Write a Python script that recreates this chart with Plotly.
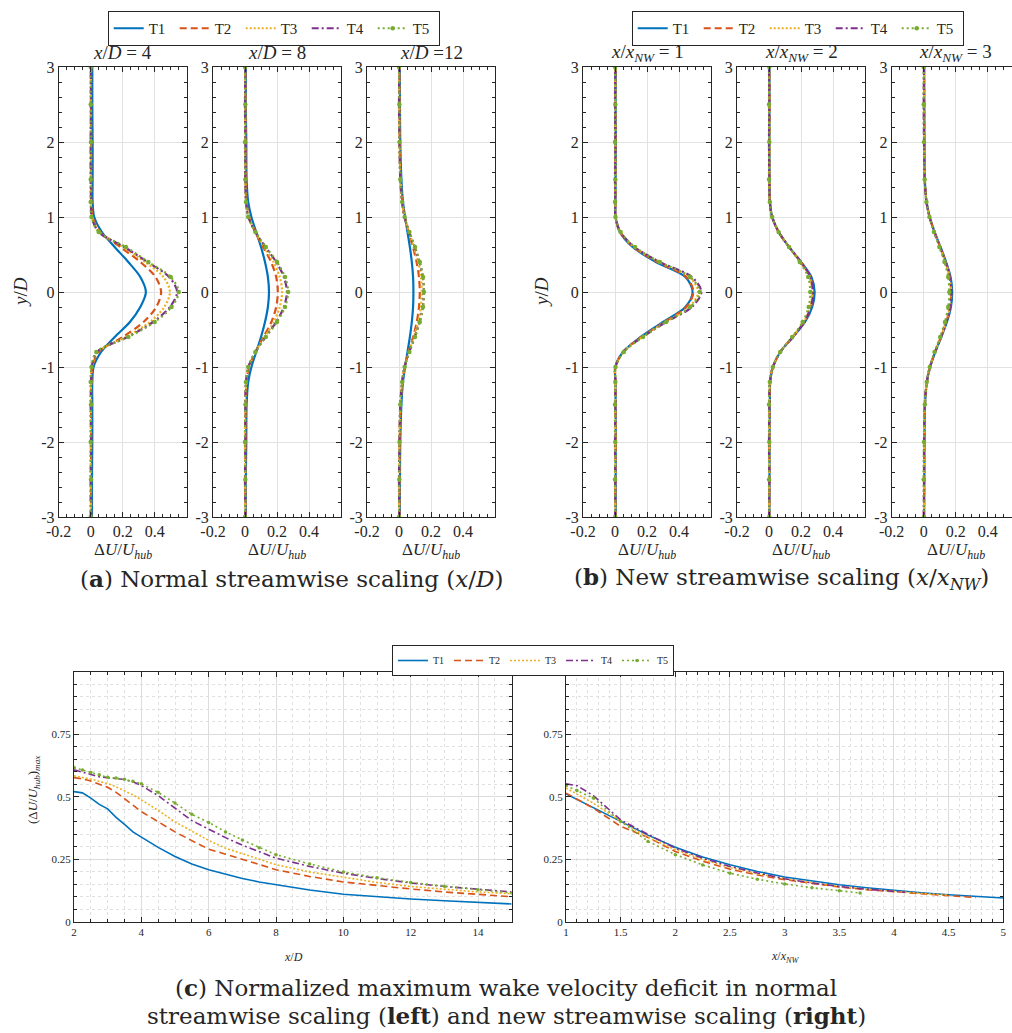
import plotly.graph_objects as go

W, H = 1012, 1033
FONT = "Liberation Serif"
CAPFONT = "DejaVu Serif"
INK = "#262626"

series_names = ["T1", "T2", "T3", "T4", "T5"]
series_colors = ["#0072BD", "#D95319", "#EDB120", "#7E2F8E", "#77AC30"]
series_dash = ["solid", "7px,4px", "2px,2px", "7px,3px,2px,3px", "2px,3px"]

# ---------------- wake profiles: y/D grid ----------------
y_D = [-3, -2.5, -2, -1.5, -1.2, -1.0, -0.8, -0.6, -0.4, -0.2, 0,
       0.2, 0.4, 0.6, 0.8, 1.0, 1.2, 1.5, 2, 2.5, 3]

# x/D = 4
xD4_T1 = [0.008, 0.008, 0.01, 0.01, 0.01, 0.018, 0.065, 0.15, 0.245, 0.31, 0.345, 0.31, 0.235, 0.15, 0.07, 0.022, 0.012, 0.012, 0.012, 0.01, 0.01]
xD4_T2 = [0.003, 0.002, 0.003, 0.002, 0.004, 0.01, 0.05, 0.2, 0.33, 0.41, 0.44, 0.405, 0.31, 0.185, 0.06, 0.012, 0.004, 0.003, 0.003, 0.002, 0.003]
xD4_T3 = [0.002, 0.0, 0.0, 0.002, 0.002, 0.008, 0.045, 0.22, 0.37, 0.46, 0.495, 0.455, 0.34, 0.2, 0.055, 0.008, 0.002, 0.002, 0.0, 0.0, 0.002]
xD4_T4 = [0.0, 0.0, 0.002, 0.0, 0.002, 0.006, 0.04, 0.23, 0.39, 0.495, 0.54, 0.49, 0.355, 0.21, 0.05, 0.006, 0.002, 0.0, 0.0, 0.002, 0.0]
xD4_T5 = [0.0, 0.002, 0.0, 0.002, 0.0, 0.005, 0.035, 0.235, 0.40, 0.505, 0.55, 0.50, 0.36, 0.22, 0.05, 0.005, 0.0, 0.0, 0.002, 0.0, 0.0]

# x/D = 8
xD8_T1 = [0.005, 0.005, 0.008, 0.01, 0.02, 0.04, 0.07, 0.1, 0.125, 0.143, 0.15, 0.143, 0.125, 0.1, 0.07, 0.04, 0.02, 0.01, 0.008, 0.005, 0.005]
xD8_T2 = [0.003, 0.002, 0.003, 0.004, 0.01, 0.026, 0.065, 0.115, 0.165, 0.195, 0.205, 0.195, 0.163, 0.113, 0.064, 0.026, 0.01, 0.004, 0.003, 0.003, 0.002]
xD8_T3 = [0.002, 0.002, 0.0, 0.003, 0.008, 0.023, 0.065, 0.123, 0.18, 0.217, 0.232, 0.217, 0.178, 0.12, 0.065, 0.023, 0.007, 0.003, 0.002, 0.002, 0.0]
xD8_T4 = [0.002, 0.0, 0.002, 0.002, 0.006, 0.021, 0.065, 0.128, 0.195, 0.243, 0.262, 0.243, 0.195, 0.128, 0.065, 0.021, 0.006, 0.002, 0.002, 0.0, 0.002]
xD8_T5 = [0.0, 0.002, 0.0, 0.003, 0.006, 0.02, 0.065, 0.13, 0.2, 0.25, 0.27, 0.25, 0.2, 0.13, 0.065, 0.02, 0.006, 0.002, 0.0, 0.002, 0.0]

# x/D = 12
xD12_T1 = [0.005, 0.006, 0.008, 0.015, 0.025, 0.038, 0.053, 0.068, 0.08, 0.088, 0.09, 0.088, 0.08, 0.068, 0.053, 0.038, 0.025, 0.015, 0.008, 0.006, 0.005]
xD12_T2 = [0.003, 0.003, 0.004, 0.01, 0.021, 0.036, 0.06, 0.088, 0.111, 0.125, 0.13, 0.125, 0.11, 0.087, 0.06, 0.036, 0.021, 0.01, 0.004, 0.003, 0.003]
xD12_T3 = [0.002, 0.002, 0.003, 0.009, 0.02, 0.035, 0.062, 0.093, 0.12, 0.137, 0.142, 0.137, 0.12, 0.092, 0.062, 0.035, 0.02, 0.009, 0.003, 0.002, 0.002]
xD12_T4 = [0.002, 0.0, 0.003, 0.008, 0.019, 0.034, 0.064, 0.099, 0.129, 0.149, 0.155, 0.149, 0.128, 0.098, 0.064, 0.034, 0.019, 0.008, 0.003, 0.0, 0.002]
xD12_T5 = [0.0, 0.002, 0.003, 0.008, 0.02, 0.035, 0.065, 0.1, 0.13, 0.15, 0.156, 0.15, 0.13, 0.1, 0.065, 0.035, 0.02, 0.008, 0.003, 0.002, 0.0]

# x/x_NW = 1
xNW1_T1 = [0.005, 0.004, 0.005, 0.004, 0.003, 0.002, 0.05, 0.16, 0.30, 0.44, 0.485, 0.44, 0.255, 0.11, 0.03, 0.004, 0.003, 0.004, 0.005, 0.004, 0.005]
xNW1_T2 = [0.003, 0.002, 0.004, 0.003, 0.003, 0.003, 0.05, 0.165, 0.31, 0.445, 0.49, 0.445, 0.265, 0.115, 0.032, 0.003, 0.003, 0.002, 0.003, 0.002, 0.003]
xNW1_T3 = [0.002, 0.002, 0.002, 0.003, 0.002, 0.003, 0.052, 0.17, 0.315, 0.465, 0.52, 0.465, 0.275, 0.12, 0.033, 0.003, 0.002, 0.002, 0.003, 0.002, 0.002]
xNW1_T4 = [0.0, 0.002, 0.0, 0.002, 0.002, 0.003, 0.052, 0.172, 0.32, 0.48, 0.54, 0.48, 0.28, 0.122, 0.034, 0.003, 0.002, 0.0, 0.002, 0.0, 0.002]
xNW1_T5 = [0.002, 0.0, 0.002, 0.0, 0.002, 0.003, 0.055, 0.175, 0.32, 0.47, 0.53, 0.47, 0.28, 0.125, 0.035, 0.003, 0.0, 0.002, 0.0, 0.002, 0.0]

# x/x_NW = 2
xNW2_T1 = [0.003, 0.003, 0.004, 0.005, 0.008, 0.025, 0.07, 0.15, 0.225, 0.27, 0.285, 0.265, 0.2, 0.125, 0.06, 0.02, 0.006, 0.004, 0.003, 0.003, 0.003]
xNW2_T2 = [0.002, 0.003, 0.002, 0.004, 0.007, 0.025, 0.07, 0.148, 0.22, 0.262, 0.275, 0.258, 0.198, 0.125, 0.06, 0.02, 0.006, 0.003, 0.002, 0.003, 0.002]
xNW2_T3 = [0.002, 0.002, 0.003, 0.003, 0.006, 0.024, 0.07, 0.147, 0.217, 0.258, 0.27, 0.254, 0.197, 0.126, 0.06, 0.02, 0.005, 0.003, 0.003, 0.002, 0.002]
xNW2_T4 = [0.0, 0.002, 0.0, 0.002, 0.005, 0.024, 0.071, 0.149, 0.22, 0.262, 0.275, 0.258, 0.2, 0.127, 0.061, 0.02, 0.005, 0.002, 0.0, 0.002, 0.0]
xNW2_T5 = [0.002, 0.0, 0.002, 0.0, 0.005, 0.024, 0.07, 0.145, 0.21, 0.248, 0.258, 0.245, 0.192, 0.125, 0.06, 0.02, 0.005, 0.0, 0.002, 0.0, 0.002]

# x/x_NW = 3
xNW3_T1 = [0.003, 0.004, 0.005, 0.008, 0.02, 0.04, 0.072, 0.11, 0.145, 0.17, 0.178, 0.168, 0.14, 0.105, 0.068, 0.037, 0.018, 0.007, 0.005, 0.004, 0.003]
xNW3_T2 = [0.002, 0.003, 0.004, 0.008, 0.02, 0.04, 0.071, 0.108, 0.141, 0.165, 0.172, 0.163, 0.137, 0.103, 0.067, 0.037, 0.018, 0.007, 0.004, 0.003, 0.002]
xNW3_T3 = [0.002, 0.002, 0.003, 0.007, 0.019, 0.039, 0.07, 0.107, 0.14, 0.163, 0.17, 0.162, 0.136, 0.102, 0.067, 0.037, 0.018, 0.007, 0.003, 0.002, 0.002]
xNW3_T4 = [0.0, 0.002, 0.002, 0.007, 0.019, 0.039, 0.071, 0.108, 0.141, 0.165, 0.172, 0.163, 0.137, 0.103, 0.067, 0.037, 0.017, 0.006, 0.002, 0.0, 0.002]
xNW3_T5 = [0.002, 0.0, 0.002, 0.007, 0.019, 0.038, 0.068, 0.103, 0.133, 0.153, 0.16, 0.153, 0.13, 0.098, 0.064, 0.036, 0.017, 0.006, 0.002, 0.0, 0.0]

# ---------------- maximum deficit vs x/D ----------------
x_D = [2, 2.25, 2.5, 2.75, 3, 3.25, 3.5, 3.75, 4, 4.5, 5, 5.5, 6, 6.5, 7, 7.5, 8, 9, 10, 11, 12, 13, 14, 15]
max_xD_T1 = [0.521, 0.516, 0.495, 0.47, 0.452, 0.418, 0.39, 0.36, 0.339, 0.298, 0.262, 0.232, 0.209, 0.19, 0.174, 0.16, 0.149, 0.128, 0.111, 0.1, 0.092, 0.085, 0.078, 0.072]
max_xD_T2 = [0.577, 0.572, 0.563, 0.552, 0.538, 0.518, 0.494, 0.467, 0.441, 0.40, 0.36, 0.325, 0.291, 0.271, 0.252, 0.23, 0.209, 0.182, 0.16, 0.145, 0.132, 0.12, 0.11, 0.101]
max_xD_T3 = [0.584, 0.578, 0.571, 0.562, 0.553, 0.54, 0.525, 0.508, 0.488, 0.446, 0.40, 0.362, 0.326, 0.295, 0.272, 0.25, 0.229, 0.2, 0.178, 0.158, 0.142, 0.13, 0.12, 0.113]
max_xD_T4 = [0.608, 0.598, 0.588, 0.58, 0.577, 0.574, 0.569, 0.56, 0.545, 0.505, 0.455, 0.405, 0.371, 0.337, 0.307, 0.28, 0.255, 0.222, 0.195, 0.174, 0.156, 0.142, 0.13, 0.12]
max_xD_T5 = [0.617, 0.607, 0.597, 0.588, 0.578, 0.575, 0.57, 0.562, 0.552, 0.518, 0.475, 0.43, 0.398, 0.36, 0.328, 0.297, 0.269, 0.232, 0.2, 0.177, 0.158, 0.143, 0.129, 0.116]

# ---------------- maximum deficit vs x/x_NW ----------------
xNW_T1 = [1, 1.1, 1.25, 1.5, 1.75, 2, 2.25, 2.5, 2.75, 3, 3.25, 3.5, 3.75, 4, 4.25, 4.5, 4.75, 5]
max_xNW_T1 = [0.512, 0.49, 0.46, 0.402, 0.347, 0.299, 0.26, 0.229, 0.202, 0.18, 0.163, 0.149, 0.137, 0.126, 0.117, 0.109, 0.102, 0.096]
xNW_T2 = [1, 1.1, 1.25, 1.5, 1.75, 2, 2.25, 2.5, 2.75, 3, 3.25, 3.5, 3.75, 4, 4.25, 4.5, 4.75]
max_xNW_T2 = [0.515, 0.49, 0.455, 0.382, 0.338, 0.282, 0.243, 0.211, 0.188, 0.169, 0.153, 0.14, 0.129, 0.12, 0.112, 0.105, 0.098]
xNW_T3 = [1, 1.1, 1.25, 1.5, 1.75, 2, 2.25, 2.5, 2.75, 3, 3.25, 3.5, 3.75, 4, 4.25, 4.5]
max_xNW_T3 = [0.535, 0.51, 0.475, 0.402, 0.338, 0.289, 0.25, 0.217, 0.193, 0.173, 0.157, 0.142, 0.131, 0.121, 0.114, 0.108]
xNW_T4 = [1, 1.1, 1.25, 1.5, 1.75, 2, 2.25, 2.5, 2.75, 3, 3.25, 3.5, 3.75, 4, 4.1]
max_xNW_T4 = [0.552, 0.545, 0.505, 0.408, 0.35, 0.295, 0.255, 0.222, 0.196, 0.173, 0.156, 0.142, 0.131, 0.122, 0.119]
xNW_T5 = [1, 1.1, 1.25, 1.5, 1.75, 2, 2.25, 2.5, 2.75, 3, 3.25, 3.5, 3.69]
max_xNW_T5 = [0.545, 0.525, 0.495, 0.402, 0.322, 0.269, 0.228, 0.195, 0.171, 0.152, 0.137, 0.125, 0.116]

profile_titles = ["<i>x</i>/<i>D</i> = 4", "<i>x</i>/<i>D</i> = 8", "<i>x</i>/<i>D</i> =12",
                  "<i>x</i>/<i>x</i><sub><i>NW</i></sub> = 1", "<i>x</i>/<i>x</i><sub><i>NW</i></sub> = 2",
                  "<i>x</i>/<i>x</i><sub><i>NW</i></sub> = 3"]
profile_sets = [
    [xD4_T1, xD4_T2, xD4_T3, xD4_T4, xD4_T5],
    [xD8_T1, xD8_T2, xD8_T3, xD8_T4, xD8_T5],
    [xD12_T1, xD12_T2, xD12_T3, xD12_T4, xD12_T5],
    [xNW1_T1, xNW1_T2, xNW1_T3, xNW1_T4, xNW1_T5],
    [xNW2_T1, xNW2_T2, xNW2_T3, xNW2_T4, xNW2_T5],
    [xNW3_T1, xNW3_T2, xNW3_T3, xNW3_T4, xNW3_T5],
]
panel_left = [58.7, 213, 367, 583, 737, 891.7]
PX_PER_UNIT = 160.0
TOP_Y0, TOP_Y1 = 67, 517

fig = go.Figure()

for p in range(6):
    ax = "" if p == 0 else str(p + 1)
    for i in range(5):
        kw = dict(
            x=profile_sets[p][i], y=y_D, name=series_names[i],
            line=dict(color=series_colors[i], width=2.2, dash=series_dash[i],
                      shape="spline", smoothing=0.9),
            xaxis="x" + ax, yaxis="y" + ax, showlegend=(p in (0, 3)),
            hoverinfo="skip",
        )
        if p == 0:
            kw["legend"] = "legend"
        elif p == 3:
            kw["legend"] = "legend2"
        if i == 4:
            kw["mode"] = "lines+markers"
            kw["marker"] = dict(size=4.5, color=series_colors[i])
        else:
            kw["mode"] = "lines"
        fig.add_trace(go.Scatter(**kw))

left_sets = [max_xD_T1, max_xD_T2, max_xD_T3, max_xD_T4, max_xD_T5]
right_sets = [(xNW_T1, max_xNW_T1), (xNW_T2, max_xNW_T2), (xNW_T3, max_xNW_T3),
              (xNW_T4, max_xNW_T4), (xNW_T5, max_xNW_T5)]
for i in range(5):
    kw = dict(x=x_D, y=left_sets[i], name=series_names[i],
              line=dict(color=series_colors[i], width=1.6, dash=series_dash[i]),
              xaxis="x7", yaxis="y7", showlegend=True, legend="legend3", hoverinfo="skip")
    if i == 4:
        kw["mode"] = "lines+markers"
        kw["marker"] = dict(size=3.5, color=series_colors[i])
    else:
        kw["mode"] = "lines"
    fig.add_trace(go.Scatter(**kw))
for i in range(5):
    xx, yy = right_sets[i]
    kw = dict(x=xx, y=yy, name=series_names[i],
              line=dict(color=series_colors[i], width=1.6, dash=series_dash[i]),
              xaxis="x8", yaxis="y8", showlegend=False, hoverinfo="skip")
    if i == 4:
        kw["mode"] = "lines+markers"
        kw["marker"] = dict(size=3.5, color=series_colors[i])
    else:
        kw["mode"] = "lines"
    fig.add_trace(go.Scatter(**kw))

layout = dict(
    template="none",
    width=W, height=H, margin=dict(l=0, r=0, t=0, b=0, pad=0, autoexpand=False),
    paper_bgcolor="white", plot_bgcolor="white",
    font=dict(family=FONT, color=INK),
)

ydom_top = [1 - TOP_Y1 / H, 1 - TOP_Y0 / H]
for p in range(6):
    ax = "" if p == 0 else str(p + 1)
    left = panel_left[p]
    right = min(left + 0.8 * PX_PER_UNIT, W)
    xmax = -0.2 + (right - left) / PX_PER_UNIT
    layout["xaxis" + ax] = dict(
        domain=[left / W, right / W], range=[-0.2, xmax], anchor="y" + ax, automargin=False,
        tickmode="array", tickvals=[-0.2, 0, 0.2, 0.4], ticktext=["-0.2", "0", "0.2", "0.4"],
        ticks="inside", ticklen=5, tickwidth=1, tickcolor=INK, showline=True, linecolor=INK,
        linewidth=1, mirror="ticks", showgrid=True, gridcolor="#e2e2e2", gridwidth=1,
        zeroline=False,
        minor=dict(tickmode="linear", tick0=0, dtick=0.05, ticks="inside", ticklen=3,
                   tickcolor=INK, showgrid=False),
        tickfont=dict(family=FONT, size=16, color=INK), fixedrange=True,
    )
    layout["yaxis" + ax] = dict(
        domain=ydom_top, range=[-3, 3], anchor="x" + ax, automargin=False,
        tickmode="array", tickvals=[-3, -2, -1, 0, 1, 2, 3],
        ticktext=["-3", "-2", "-1", "0", "1", "2", "3"],
        ticks="inside", ticklen=5, tickwidth=1, tickcolor=INK, showline=True, linecolor=INK,
        linewidth=1, mirror=("ticks" if p != 5 else False), showgrid=True,
        gridcolor="#e2e2e2", gridwidth=1, zeroline=False,
        minor=dict(tickmode="linear", tick0=0, dtick=0.2, ticks="inside", ticklen=3,
                   tickcolor=INK, showgrid=False),
        tickfont=dict(family=FONT, size=16, color=INK), fixedrange=True,
    )

BOT_Y0, BOT_Y1 = 671.7, 922
ydom_bot = [1 - BOT_Y1 / H, 1 - BOT_Y0 / H]
common_bot = dict(ticks="inside", ticklen=5, tickwidth=1, tickcolor=INK, showline=True,
                  linecolor=INK, linewidth=1.2, mirror="ticks", showgrid=True,
                  gridcolor="#dcdcdc", gridwidth=1, zeroline=False, automargin=False,
                  tickfont=dict(family=FONT, size=11, color=INK), fixedrange=True)
minor_grid = dict(ticks="inside", ticklen=3, tickcolor=INK, showgrid=True,
                  gridcolor="#e0e0e0", griddash="dot", gridwidth=1)
layout["xaxis7"] = dict(domain=[74 / W, 511.7 / W], range=[2, 15], anchor="y7",
                        tickmode="array", tickvals=[2, 4, 6, 8, 10, 12, 14],
                        minor=dict(tickmode="linear", tick0=0, dtick=0.5, **minor_grid),
                        **common_bot)
layout["yaxis7"] = dict(domain=ydom_bot, range=[0, 1], anchor="x7",
                        tickmode="array", tickvals=[0, 0.25, 0.5, 0.75],
                        ticktext=["0", "0.25", "0.5", "0.75"],
                        minor=dict(tickmode="linear", tick0=0, dtick=0.05, **minor_grid),
                        **common_bot)
layout["xaxis8"] = dict(domain=[566 / W, 1003.3 / W], range=[1, 5], anchor="y8",
                        tickmode="array", tickvals=[1, 1.5, 2, 2.5, 3, 3.5, 4, 4.5, 5],
                        ticktext=["1", "1.5", "2", "2.5", "3", "3.5", "4", "4.5", "5"],
                        minor=dict(tickmode="linear", tick0=0, dtick=0.1, **minor_grid),
                        **common_bot)
layout["yaxis8"] = dict(domain=ydom_bot, range=[0, 1], anchor="x8",
                        tickmode="array", tickvals=[0, 0.25, 0.5, 0.75],
                        ticktext=["0", "0.25", "0.5", "0.75"],
                        minor=dict(tickmode="linear", tick0=0, dtick=0.05, **minor_grid),
                        **common_bot)

legend_common = dict(orientation="h", xanchor="left", yanchor="top", bgcolor="white",
                     bordercolor=INK, borderwidth=1, tracegroupgap=0)
layout["legend"] = dict(x=107.7 / W, y=1 - 11 / H, font=dict(family=FONT, size=15, color=INK),
                        itemwidth=30, entrywidth=21, **legend_common)
layout["legend2"] = dict(x=631.7 / W, y=1 - 11 / H, font=dict(family=FONT, size=15, color=INK),
                         itemwidth=30, entrywidth=21, **legend_common)
layout["legend3"] = dict(x=392 / W, y=1 - 645 / H, font=dict(family=FONT, size=10, color=INK),
                         itemwidth=30, entrywidth=11, **legend_common)

ann = []
def add_text(x, y, text, size, angle=0, family=FONT):
    ann.append(dict(x=x / W, y=1 - y / H, xref="paper", yref="paper", text=text, showarrow=False,
                    font=dict(family=family, size=size, color=INK), textangle=angle,
                    xanchor="center", yanchor="middle"))

for p in range(6):
    cx = panel_left[p] + 0.4 * PX_PER_UNIT
    add_text(cx, 53, profile_titles[p], 19)
    add_text(cx, 551, "Δ<i>U</i>/<i>U</i><sub><i>hub</i></sub>", 17)
add_text(20, 292, "<i>y</i>/<i>D</i>", 19, angle=-90)
add_text(541, 292, "<i>y</i>/<i>D</i>", 19, angle=-90)
add_text(291, 578, "(<b>a</b>) Normal streamwise scaling (<i>x</i>/<i>D</i>)", 23, family=CAPFONT)
add_text(781, 578, "(<b>b</b>) New streamwise scaling (<i>x</i>/<i>x</i><sub><i>NW</i></sub>)", 23, family=CAPFONT)
add_text(33, 790, "(Δ<i>U</i>/<i>U</i><sub><i>hub</i></sub>)<sub><i>max</i></sub>", 13, angle=-90)
add_text(293, 957, "<i>x</i>/<i>D</i>", 12)
add_text(785, 957, "<i>x</i>/<i>x</i><sub><i>NW</i></sub>", 12)
add_text(506, 987, "(<b>c</b>) Normalized maximum wake velocity deficit in normal", 23, family=CAPFONT)
add_text(506, 1015, "streamwise scaling (<b>left</b>) and new streamwise scaling (<b>right</b>)", 23, family=CAPFONT)
layout["annotations"] = ann

fig.update_layout(**layout)
fig.write_html("out.html")
